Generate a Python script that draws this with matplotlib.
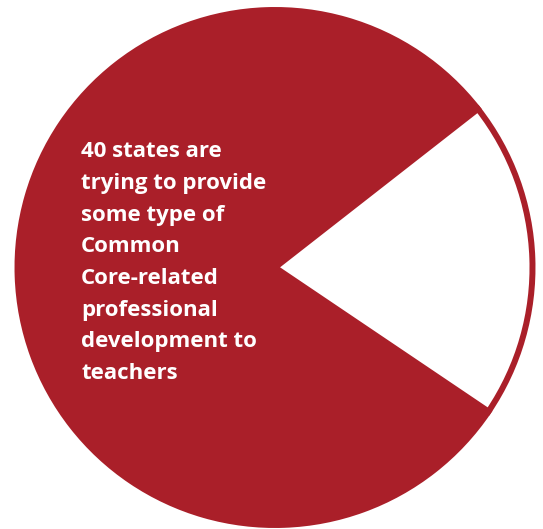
import matplotlib
matplotlib.use('Agg')
import matplotlib.pyplot as plt

# 40 of 50 states
labels = ['Providing PD', 'Not providing']
states = [40, 10]
red = '#AA1F29'
colors = [red, 'white']

lines = ['40 states are',
         'trying to provide',
         'some type of',
         'Common',
         'Core-related',
         'professional',
         'development to',
         'teachers']

W, H = 543, 529
fig = plt.figure(figsize=(W / 100, H / 100), dpi=100)
ax = fig.add_axes([0, 0, 1, 1])

ax.pie(states, colors=colors, center=(275, H - 267.5), radius=257.5,
       startangle=38, counterclock=True,
       wedgeprops=dict(edgecolor=red, linewidth=4.3))

ax.set_xlim(0, W)
ax.set_ylim(0, H)
ax.set_aspect('equal')
ax.axis('off')

for i, line in enumerate(lines):
    ax.text(81, H - 157 - i * 31.75, line, color='white', fontsize=16,
            fontweight='bold', family=['Open Sans', 'DejaVu Sans'],
            ha='left', va='baseline')

plt.savefig('out.png', dpi=100)
